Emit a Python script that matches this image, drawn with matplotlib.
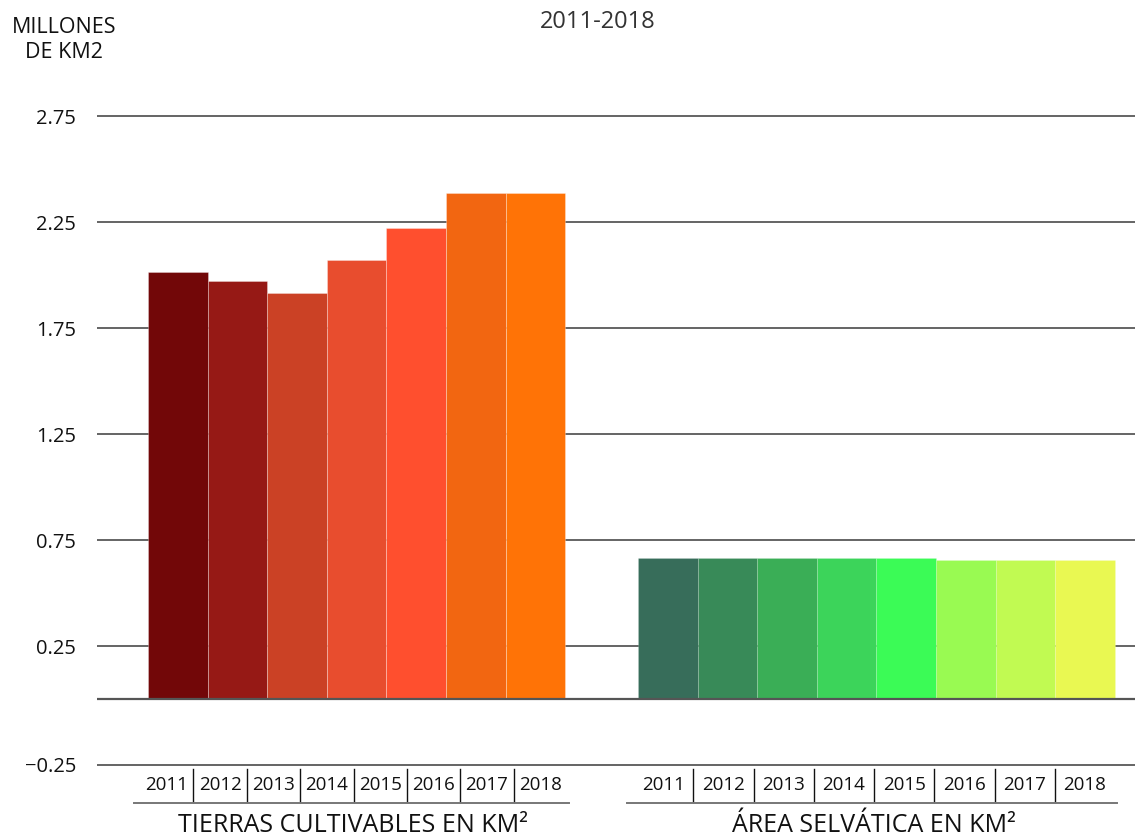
import matplotlib
matplotlib.use("Agg")
import matplotlib.pyplot as plt

plt.rcParams['font.family'] = ['Open Sans', 'DejaVu Sans']

# data (millones de km2)
years = ["2011", "2012", "2013", "2014", "2015", "2016", "2017", "2018"]
cultivables = [2.014, 1.972, 1.916, 2.071, 2.222, 2.388, 2.388]
selvatica = [0.665, 0.665, 0.665, 0.665, 0.665, 0.656, 0.656, 0.656]
colors_cult = ["#720708", "#961915", "#CB4125", "#E84D2E", "#FF4F2E", "#F26611", "#FF7306"]
colors_selva = ["#376D5A", "#388A58", "#3AAE56", "#3CD45A", "#3BFB56", "#99FA52", "#C1FA52", "#E9F852"]
ytick_vals = [-0.311, 0.25, 0.75, 1.25, 1.75, 2.25, 2.75]
ytick_labels = ["\u22120.25", "0.25", "0.75", "1.25", "1.75", "2.25", "2.75"]

W, H = 1135, 838
fig = plt.figure(figsize=(W / 100, H / 100), dpi=100)


def fx(px):
    return px / W


def fy(py):
    return 1 - py / H


# axes: x from 97px to right edge, y pixels 100..780
ax = fig.add_axes([fx(97), fy(780), 1 - fx(97), (780 - 100) / H])
slot = 59.6  # px per bar
x0 = (148 - 97) / slot
offset = (638 - 148) / slot

xl = [x0 + i + 0.5 for i in range(len(cultivables))]
xr = [x0 + offset + i + 0.5 for i in range(len(selvatica))]

ax.bar(xl, cultivables, width=1.0, color=colors_cult, edgecolor=(1, 1, 1, 0.35), linewidth=0.6, zorder=3)
ax.bar(xr, selvatica, width=1.0, color=colors_selva, edgecolor=(1, 1, 1, 0.25), linewidth=0.4, zorder=3)

ax.set_xlim(0, (W - 97) / slot)
ax.set_ylim(-(780 - 699) / 212, (699 - 100) / 212)

ax.set_yticks(ytick_vals)
ax.set_yticklabels(ytick_labels, fontsize=14.5, color="#111111")
ax.tick_params(axis="y", length=0, pad=15)
ax.set_xticks([])
for t in ytick_vals:
    ax.axhline(t, color="#3a3a3a", linewidth=1.1, zorder=1)
ax.axhline(0, color="#555555", linewidth=1.6, zorder=4)
for s in ax.spines.values():
    s.set_visible(False)

# year label boxes under each group
def year_row(x_start, x_end, label):
    n = len(years)
    cw = (x_end - x_start) / n
    for i, yr in enumerate(years):
        fig.text(fx(x_start + cw * (i + 0.5)), fy(785), yr, ha="center", va="center",
                 fontsize=13.5, color="#111111")
        if i > 0:
            fig.add_artist(plt.Line2D([fx(x_start + cw * i)] * 2, [fy(769), fy(802)],
                                      color="#111111", linewidth=1))
    fig.add_artist(plt.Line2D([fx(x_start - 6), fx(x_end + 2)], [fy(803)] * 2,
                              color="#777777", linewidth=1.4))
    fig.text(fx((x_start + x_end) / 2), fy(825), label, ha="center", va="center",
             fontsize=18, color="#111111")


year_row(140, 567, "TIERRAS CULTIVABLES EN KM\u00b2")
year_row(633, 1115, "\u00c1REA SELV\u00c1TICA EN KM\u00b2")

fig.text(fx(598), fy(22), "2011-2018", ha="center", va="center", fontsize=17, color="#333333")
fig.text(fx(64), fy(40), "MILLONES\nDE KM2", ha="center", va="center", fontsize=15.5,
         color="#111111", linespacing=1.2)

fig.savefig("out.png", dpi=100)
